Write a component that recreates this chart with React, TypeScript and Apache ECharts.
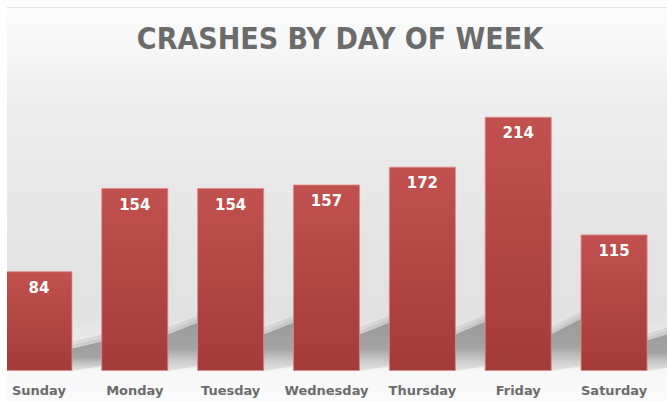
import React, { useEffect, useRef } from "react";
import * as echarts from "echarts";

const days = ["Sunday", "Monday", "Tuesday", "Wednesday", "Thursday", "Friday", "Saturday"];
const crashes = [84, 154, 154, 157, 172, 214, 115];
const yMax = 250;
const titleText = "CRASHES BY DAY OF WEEK";

// the chart div is shifted 9px to the left so the first bar is cut like the original
const SHIFT = 9;

export default function App() {
  const ref = useRef<HTMLDivElement>(null);
  useEffect(() => {
    if (!ref.current) return;
    const chart = echarts.init(ref.current, null, { renderer: "svg" });
    const bgGrad = new echarts.graphic.LinearGradient(0, 0, 0, 1, [
      { offset: 0, color: "#fcfcfc" },
      { offset: 0.1, color: "#f7f7f7" },
      { offset: 0.25, color: "#ededed" },
      { offset: 0.6, color: "#e4e4e4" },
      { offset: 0.78, color: "#e2e2e2" },
      { offset: 0.88, color: "#efefef" },
      { offset: 0.93, color: "#f8f8f8" },
      { offset: 1, color: "#fbfbfb" },
    ]);
    const barGrad = new echarts.graphic.LinearGradient(0, 0, 0, 1, [
      { offset: 0, color: "#c1514e" },
      { offset: 1, color: "#a23c39" },
    ]);
    chart.setOption({
      animation: false,
      backgroundColor: "#ffffff",
      graphic: [
        {
          type: "rect",
          z: -10,
          silent: true,
          shape: { x: 7 + SHIFT, y: 7, width: 660, height: 395 },
          style: { fill: bgGrad },
        },
        {
          type: "line",
          z: -9,
          silent: true,
          shape: { x1: 7 + SHIFT, y1: 7.5, x2: 667 + SHIFT, y2: 7.5 },
          style: { stroke: "#e4e4e4", lineWidth: 1 },
        },
        {
          type: "rect",
          z: 100,
          silent: true,
          shape: { x: 0, y: 0, width: 7 + SHIFT, height: 402 },
          style: { fill: "#ffffff" },
        },
        {
          type: "text",
          z: 101,
          x: 340 + SHIFT,
          y: 38,
          style: {
            text: titleText,
            fill: "#6b6b6b",
            font: "bold 30px 'DejaVu Sans Condensed', 'DejaVu Sans', sans-serif",
            align: "center",
            verticalAlign: "middle",
          },
        },
      ],
      grid: { left: 0, right: 5, top: 74, bottom: 31, containLabel: false },
      xAxis: {
        type: "category",
        data: days,
        axisLine: { show: false },
        axisTick: { show: false },
        axisLabel: {
          color: "#6b6b6b",
          fontFamily: "'DejaVu Sans', sans-serif",
          fontWeight: "bold",
          fontSize: 13,
          margin: 13,
          interval: 0,
        },
      },
      yAxis: { type: "value", min: 0, max: yMax, show: false, splitLine: { show: false } },
      series: [
        {
          type: "custom",
          z: 1,
          silent: true,
          data: crashes.map((v, i) => [i, v]),
          encode: { x: 0, y: 1 },
          renderItem: (params: any, api: any) => {
            const i = api.value(0);
            const v = api.value(1);
            const top = api.coord([i, v]);
            const base = api.coord([i, 0]);
            const band = api.size([1, 0])[0];
            const bw = band * 0.7;
            const xr = base[0] + bw / 2;
            const h = base[1] - top[1];
            const y0 = base[1];
            const lt = Math.min(36, h * 0.22);
            const rt = lt + 2 + h * 0.065;
            const mk = (e: number) => [
              [xr - 2, y0],
              [xr - 2, y0 - lt - e],
              [xr + 34, y0 - rt - e],
              [xr + 34, y0 - 6 + e * 0.3],
            ];
            const g1 = new echarts.graphic.LinearGradient(0, 0, 0, 1, [
              { offset: 0, color: "rgba(150,150,150,0.25)" },
              { offset: 1, color: "rgba(180,180,180,0.1)" },
            ]);
            const g2 = new echarts.graphic.LinearGradient(0, 0, 0, 1, [
              { offset: 0, color: "rgba(140,140,140,0.75)" },
              { offset: 0.55, color: "rgba(145,145,145,0.75)" },
              { offset: 1, color: "rgba(190,190,190,0.15)" },
            ]);
            return {
              type: "group",
              children: [
                { type: "polygon", shape: { points: mk(7) }, style: { fill: g1 } },
                { type: "polygon", shape: { points: mk(3.5) }, style: { fill: g1 } },
                { type: "polygon", shape: { points: mk(0) }, style: { fill: g2 } },
              ],
            };
          },
        },
        {
          type: "bar",
          z: 2,
          data: crashes,
          barWidth: "70%",
          itemStyle: {
            color: barGrad,
            borderColor: "rgba(225,140,138,0.8)",
            borderWidth: 1,
          },
          label: {
            show: true,
            position: "insideTop",
            distance: 9,
            color: "#ffffff",
            fontFamily: "'DejaVu Sans', sans-serif",
            fontWeight: "bold",
            fontSize: 15,
          },
        },
      ],
    });
    return () => chart.dispose();
  }, []);
  return (
    <div
      ref={ref}
      style={{ position: "absolute", left: -SHIFT, top: 0, width: 667 + SHIFT, height: 402 }}
    />
  );
}
